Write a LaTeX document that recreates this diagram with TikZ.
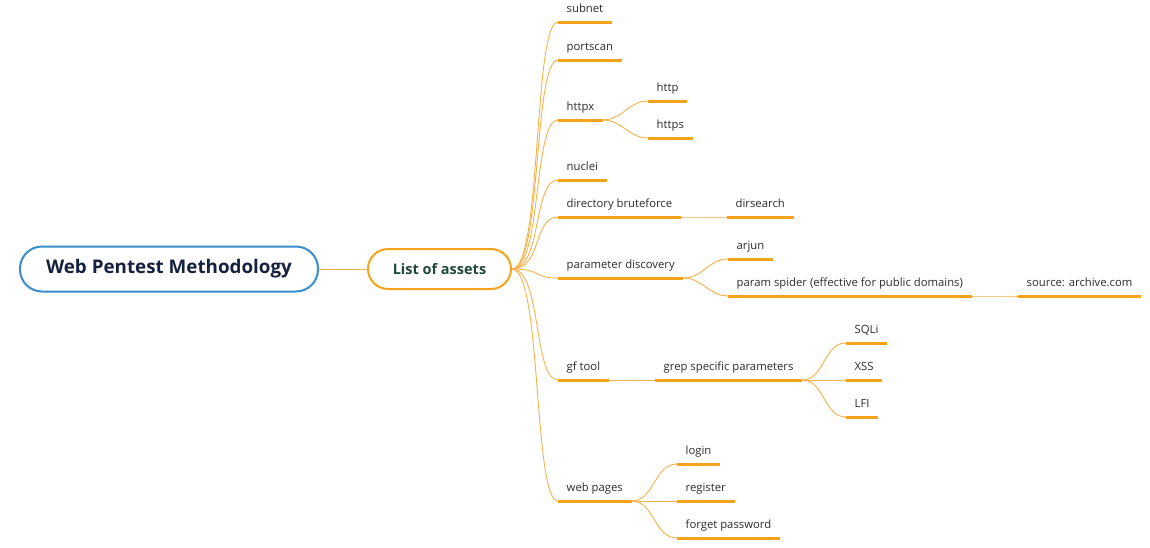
\documentclass[tikz,border=0pt]{standalone}
\usepackage{fontspec}
\setmainfont{Open Sans}
\usetikzlibrary{positioning}

\definecolor{rootblue}{HTML}{3A8DCB}
\definecolor{rootink}{HTML}{15213F}
\definecolor{assetink}{HTML}{1F4A38}
\definecolor{branch}{HTML}{F5A31A}
\definecolor{twig}{HTML}{F6B24A}
\definecolor{leafink}{HTML}{2B2B2B}

\begin{document}
\begin{tikzpicture}[
  x=1pt, y=-1pt,
  rootbox/.style={rectangle, draw=rootblue, line width=2pt, rounded corners=22pt, minimum width=298pt, minimum height=45pt, fill=white, text=rootink, font=\fontsize{18.8}{22}\selectfont\bfseries},
  assetbox/.style={rectangle, draw=branch, line width=2pt, rounded corners=20pt, minimum width=143pt, minimum height=40pt, fill=white, text=assetink, font=\fontsize{14.5}{17}\selectfont\bfseries},
  leaf/.style={anchor=south west, inner xsep=8.5pt, inner ysep=6.5pt, text height=8pt, text depth=3pt, text=leafink, font=\fontsize{11.3}{13}\selectfont},
  uline/.style={draw=branch, line width=3pt},
  conn/.style={draw=twig, line width=0.9pt},
]
\useasboundingbox (0,0) rectangle (1150,547);

% ---------------- centre ----------------
\node[rootbox] (root) at (169,269) {Web Pentest Methodology};
\node[assetbox] (assets) at (439.5,269) {List of assets};
\draw[conn] (root) -- (assets);

% ---------------- first level ----------------
\node[leaf] (subnet)    at (558,22)  {subnet};
\node[leaf] (portscan)  at (558,60)  {portscan};
\node[leaf] (httpx)     at (558,120) {httpx};
\node[leaf] (nuclei)    at (558,180) {nuclei};
\node[leaf] (dirbf)     at (558,217) {directory bruteforce};
\node[leaf] (paramdisc) at (558,278) {parameter discovery};
\node[leaf] (gftool)    at (558,380) {gf tool};
\node[leaf] (webpages)  at (558,501) {web pages};

% ---------------- deeper levels ----------------
\node[leaf] (http)        at (648,101) {http};
\node[leaf] (https)       at (648,138) {https};
\node[leaf] (dirsearch)   at (727,217) {dirsearch};
\node[leaf] (arjun)       at (728,259) {arjun};
\node[leaf] (paramspider) at (728,296) {param spider (effective for public domains)};
\node[leaf] (archive)     at (1018,296) {source: archive.com};
\node[leaf] (grep)        at (655,380) {grep specific parameters};
\node[leaf] (sqli)        at (846,343) {SQLi};
\node[leaf] (xss)         at (846,380) {XSS};
\node[leaf] (lfi)         at (846,417) {LFI};
\node[leaf] (login)       at (677,464) {login};
\node[leaf] (register)    at (677,501) {register};
\node[leaf] (forgetpw)    at (677,538) {forget password};

% connectors
\foreach \n in {subnet,portscan,httpx,nuclei,dirbf,paramdisc,gftool,webpages}
  \draw[conn] (assets.east) .. controls +(30,0) and +(-25,0) .. (\n.south west);
\foreach \a/\b in {httpx/http, httpx/https, dirbf/dirsearch, paramdisc/arjun,
    paramdisc/paramspider, paramspider/archive, gftool/grep, grep/sqli, grep/xss,
    grep/lfi, webpages/login, webpages/register, webpages/forgetpw}
  \draw[conn] (\a.south east) to[out=0, in=180] (\b.south west);

% underlines
\foreach \n in {subnet,portscan,httpx,nuclei,dirbf,paramdisc,gftool,webpages,
    http,https,dirsearch,arjun,paramspider,archive,grep,sqli,xss,lfi,login,register,forgetpw}
  \draw[uline] (\n.south west) -- (\n.south east);
\end{tikzpicture}
\end{document}
